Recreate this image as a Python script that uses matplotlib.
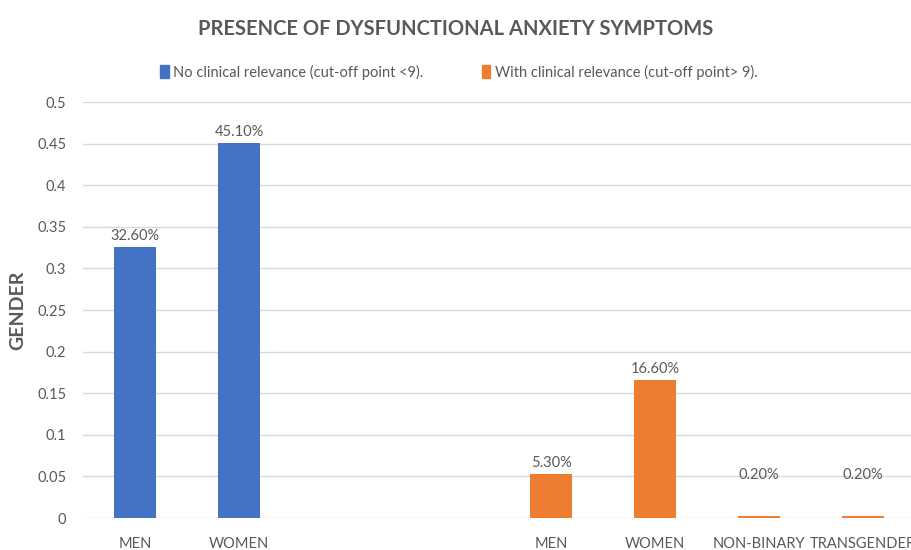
import numpy as np
import matplotlib
matplotlib.use("Agg")
import matplotlib.pyplot as plt
from matplotlib.patches import Patch

# categories along the x axis (two empty slots between the groups)
categories = ["MEN", "WOMEN", "", "", "MEN", "WOMEN", "NON-BINARY", "TRANSGENDER"]
no_clinical = [0.326, 0.451, None, None, None, None, None, None]
with_clinical = [None, None, None, None, 0.053, 0.166, 0.002, 0.002]
series_names = ["No clinical relevance (cut-off point <9).",
                "With clinical relevance (cut-off point> 9)."]
yticks = [0, 0.05, 0.1, 0.15, 0.2, 0.25, 0.3, 0.35, 0.4, 0.45, 0.5]

blue = "#4472C4"
orange = "#ED7D31"
grey = "#595959"

plt.rcParams['font.family'] = ['Lato', 'DejaVu Sans']

fig = plt.figure(figsize=(9.12, 5.5), dpi=100)
ax = fig.add_axes([83 / 912, 32 / 550, 829 / 912, 416 / 550])

x = np.arange(len(categories))
w = 0.40
for vals, col in [(no_clinical, blue), (with_clinical, orange)]:
    xs = [xi for xi, v in zip(x, vals) if v is not None]
    vs = [v for v in vals if v is not None]
    bars = ax.bar(xs, vs, width=w, color=col, zorder=3)
    for b, v in zip(bars, vs):
        # tiny bars have their label lifted higher, as in the original
        off = 25 if v < 0.01 else 3
        ax.annotate(f"{v * 100:.2f}%", (b.get_x() + b.get_width() / 2, v),
                    xytext=(0, off), textcoords="offset points",
                    ha="center", va="bottom", fontsize=10.5, color=grey)

ax.set_xlim(-0.5, 7.47)
ax.set_ylim(0, 0.5)
ax.set_yticks(yticks)
ax.set_yticklabels([f"{t:g}" for t in yticks])
ax.set_xticks(x)
ax.set_xticklabels(categories)
ax.tick_params(axis="both", length=0, labelsize=10.5, colors=grey)
ax.tick_params(axis="y", pad=12)
ax.tick_params(axis="x", pad=14)
ax.grid(axis="y", color="#D9D9D9", linewidth=1, zorder=0)
for s in ax.spines.values():
    s.set_visible(False)

ax.set_ylabel("GENDER", fontsize=14, fontweight="bold", color=grey, labelpad=8)

fig.suptitle("PRESENCE OF DYSFUNCTIONAL ANXIETY SYMPTOMS", y=0.965,
             fontsize=14.5, fontweight="bold", color=grey)

handles = [Patch(color=blue), Patch(color=orange)]
fig.legend(handles, series_names, loc="center", bbox_to_anchor=(0.503, 0.869),
           ncol=2, frameon=False, fontsize=10.5, labelcolor=grey,
           handlelength=0.6, handleheight=0.9, handletextpad=0.3,
           columnspacing=4.0)

fig.savefig("out.png", dpi=100)
